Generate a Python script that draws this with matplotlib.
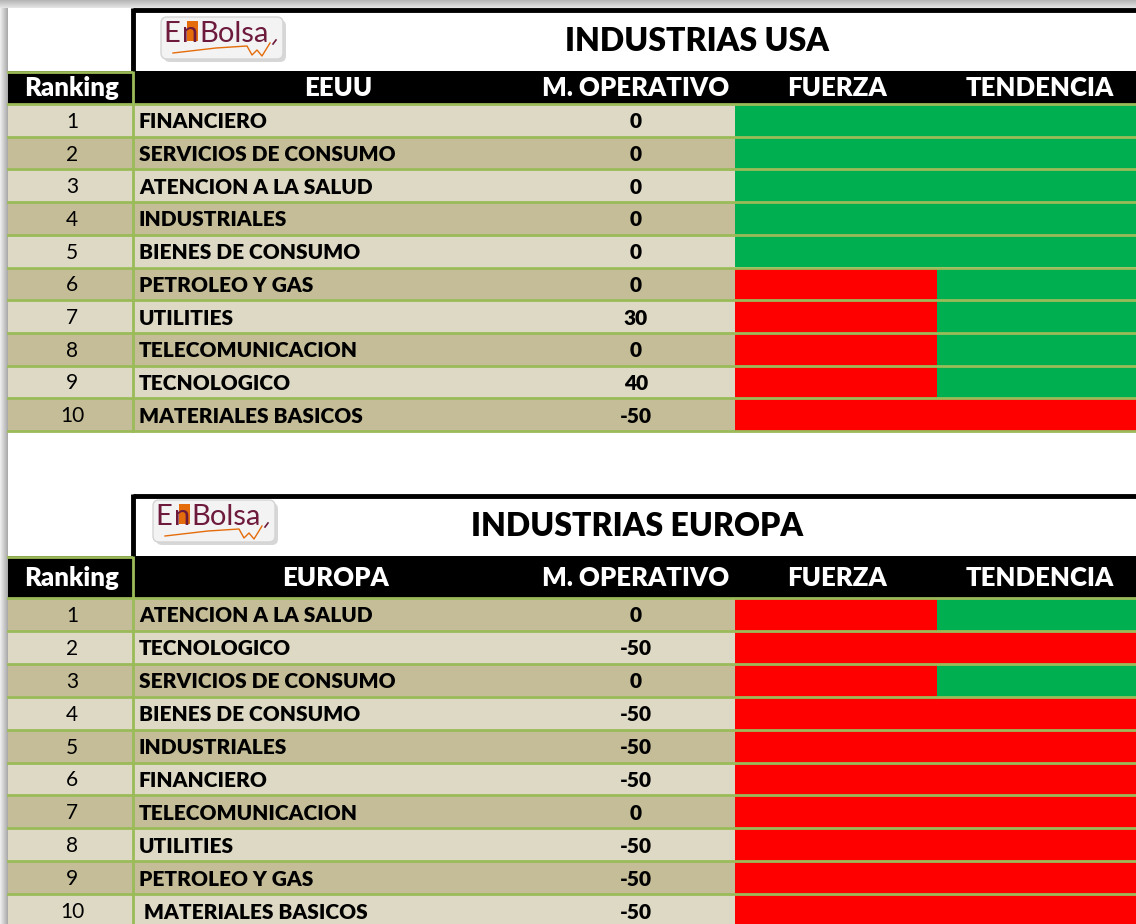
import numpy as np
import matplotlib
matplotlib.use("Agg")
import matplotlib.pyplot as plt
from matplotlib.patches import Rectangle, FancyBboxPatch

# ---------------- data ----------------
usa_title = "INDUSTRIAS USA"
usa_header = ["Ranking", "EEUU", "M. OPERATIVO", "FUERZA", "TENDENCIA"]
usa_rank = [1, 2, 3, 4, 5, 6, 7, 8, 9, 10]
usa_names = ["FINANCIERO", "SERVICIOS DE CONSUMO", "ATENCION A LA SALUD",
             "INDUSTRIALES", "BIENES DE CONSUMO", "PETROLEO Y GAS",
             "UTILITIES", "TELECOMUNICACION", "TECNOLOGICO",
             "MATERIALES BASICOS"]
usa_mo = [0, 0, 0, 0, 0, 0, 30, 0, 40, -50]
usa_fuerza = ["G", "G", "G", "G", "G", "R", "R", "R", "R", "R"]
usa_tend = ["G", "G", "G", "G", "G", "G", "G", "G", "G", "R"]

eu_title = "INDUSTRIAS EUROPA"
eu_header = ["Ranking", "EUROPA", "M. OPERATIVO", "FUERZA", "TENDENCIA"]
eu_rank = [1, 2, 3, 4, 5, 6, 7, 8, 9, 10]
eu_names = ["ATENCION A LA SALUD", "TECNOLOGICO", "SERVICIOS DE CONSUMO",
            "BIENES DE CONSUMO", "INDUSTRIALES", "FINANCIERO",
            "TELECOMUNICACION", "UTILITIES", "PETROLEO Y GAS",
            " MATERIALES BASICOS"]
eu_mo = [0, -50, 0, -50, -50, -50, 0, -50, -50, -50]
eu_fuerza = ["R", "R", "R", "R", "R", "R", "R", "R", "R", "R"]
eu_tend = ["G", "R", "G", "R", "R", "R", "R", "R", "R", "R"]

# ---------------- style ----------------
FONT = ["Lato", "DejaVu Sans"]
BOLD = "heavy"
LIGHT = "#DDD9C4"
DARK = "#C4BD97"
GRID = "#9BBB59"
GREEN = "#00B050"
RED = "#FF0000"
SIG = {"G": GREEN, "R": RED}
MAROON = "#6E1A3C"
ORANGE = "#E46C0A"

W, H = 1136, 924
fig = plt.figure(figsize=(W / 100, H / 100), dpi=100)
ax = fig.add_axes([0, 0, 1, 1])
ax.set_xlim(0, W)
ax.set_ylim(H, 0)
ax.axis("off")

# columns
XL = 8          # left edge of sheet
XR1 = 133       # end ranking column
XNAME = 139     # name text start
XMO_END = 735   # end of M.OPERATIVO column
XSPLIT = 937    # fuerza / tendencia split
XR = W
hdr_x = [72, None, 636, 837, 1040]

# shadows
grad_v = np.linspace(0, 1, 50).reshape(-1, 1)
ax.imshow(grad_v, cmap=matplotlib.colors.LinearSegmentedColormap.from_list(
    "s", ["#b4b4b4", "#e6e6e6"]), extent=(0, W, 8, 0), aspect="auto", zorder=0)
grad_h = np.linspace(0, 1, 50).reshape(1, -1)
ax.imshow(grad_h, cmap=matplotlib.colors.LinearSegmentedColormap.from_list(
    "s2", ["#f0f0f0", "#a8a8a8"]), extent=(0, XL, H, 8), aspect="auto", zorder=0)


def draw_logo(x0, y0):
    ax.add_patch(FancyBboxPatch((x0 + 3, y0 + 3), 122, 42,
                                boxstyle="round,pad=0,rounding_size=6",
                                fc="#bdbdbd", ec="none", zorder=3, alpha=0.6))
    ax.add_patch(FancyBboxPatch((x0, y0), 122, 42,
                                boxstyle="round,pad=0,rounding_size=6",
                                fc="#f3f3f3", ec="#d4d4d4", lw=1, zorder=4))
    ax.add_patch(Rectangle((x0 + 26, y0 + 4), 11, 20, fc=ORANGE, ec="none", zorder=5))
    ty = y0 + 25
    ax.text(x0 + 2, ty, "E", fontsize=21, color=MAROON, family=FONT,
            ha="left", va="baseline", zorder=6)
    ax.text(x0 + 21, ty, "n", fontsize=21, color=MAROON, family=FONT,
            ha="left", va="baseline", zorder=6)
    ax.text(x0 + 38, ty, "Bolsa", fontsize=21, color=MAROON, family=FONT,
            ha="left", va="baseline", zorder=6)
    lx = np.array([12, 55, 86, 91, 96, 101, 109]) + x0
    ly = np.array([36, 31, 29, 38, 33, 39, 26]) + y0
    ax.plot(lx, ly, color=ORANGE, lw=1, zorder=6)
    ax.plot([x0 + 112, x0 + 115], [y0 + 27, y0 + 23], color=MAROON, lw=1.2, zorder=6)


def draw_table(top, title, title_x, header, name_hx, rank, names, mo, fuerza,
               tend, title_h, header_h, row_h, first_light, logo_xy):
    # title box
    ytb = top + title_h
    ax.add_patch(Rectangle((XL, top), XR - XL, title_h, fc="white", ec="none", zorder=1))
    ax.plot([XR1 - 0.5, XR], [top + 1.5, top + 1.5], color="black", lw=3.5,
            solid_capstyle="butt", zorder=7)
    ax.plot([XR1 - 0.5, XR1 - 0.5], [top, ytb], color="black", lw=3.5,
            solid_capstyle="butt", zorder=7)
    ax.text(title_x, top + title_h / 2 + 2, title, fontsize=23, fontweight=BOLD,
            family=FONT, ha="center", va="center", zorder=6)
    draw_logo(*logo_xy)
    # header
    yh0 = ytb
    yh1 = yh0 + header_h
    ax.add_patch(Rectangle((XL, yh0), XR - XL, header_h, fc="black", ec="none", zorder=2))
    ax.plot([XL, XR1 - 2], [yh0 + 1, yh0 + 1], color=GRID, lw=2, zorder=7)
    hx = list(hdr_x)
    hx[1] = name_hx
    for i, lab in enumerate(header):
        ax.text(hx[i], (yh0 + yh1) / 2 + 1, lab, fontsize=18.5, fontweight=BOLD,
                color="white", family=FONT, ha="center", va="center", zorder=6)
    # rows
    n = len(names)
    for i in range(n):
        y0 = yh1 + i * row_h
        light = (i % 2 == 0) == first_light
        fc = LIGHT if light else DARK
        ax.add_patch(Rectangle((XL, y0), XMO_END - XL, row_h, fc=fc, ec="none", zorder=1))
        ax.add_patch(Rectangle((XMO_END, y0), XSPLIT - XMO_END, row_h,
                               fc=SIG[fuerza[i]], ec="none", zorder=1))
        ax.add_patch(Rectangle((XSPLIT, y0), XR - XSPLIT, row_h,
                               fc=SIG[tend[i]], ec="none", zorder=1))
        yc = y0 + row_h / 2 + 1.5
        ax.text(72, yc, str(rank[i]), fontsize=15, family=FONT,
                ha="center", va="center", zorder=6)
        ax.text(XNAME, yc, names[i], fontsize=15, fontweight=BOLD, family=FONT,
                ha="left", va="center", zorder=6)
        ax.text(636, yc, str(mo[i]), fontsize=15, fontweight=BOLD, family=FONT,
                ha="center", va="center", zorder=6)
    # grid lines
    for i in range(n + 1):
        y = yh1 + i * row_h
        ax.plot([XL, XR], [y, y], color=GRID, lw=2, zorder=5)
    ax.plot([XR1, XR1], [yh0, yh1 + n * row_h], color=GRID, lw=2, zorder=5)


draw_table(8, usa_title, 697, usa_header, 338, usa_rank, usa_names, usa_mo,
           usa_fuerza, usa_tend, title_h=63, header_h=33, row_h=32.7,
           first_light=True, logo_xy=(161, 17))
draw_table(494, eu_title, 637, eu_header, 335, eu_rank, eu_names, eu_mo,
           eu_fuerza, eu_tend, title_h=62, header_h=42, row_h=32.9,
           first_light=False, logo_xy=(153, 500))

fig.savefig("out.png", dpi=100)
